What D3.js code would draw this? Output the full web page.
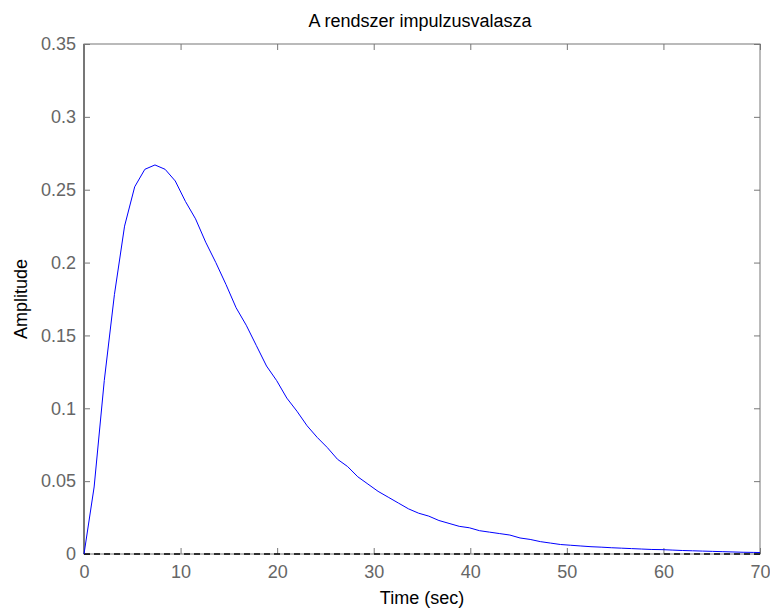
<!DOCTYPE html>
<html>
<head>
<meta charset="utf-8">
<script src="https://cdn.jsdelivr.net/npm/d3@7"></script>
<style>
body { margin: 0; background: #fff; }
text { font-family: "Liberation Sans", Arial, sans-serif; }
</style>
</head>
<body>
<svg></svg>
<script>
const width = 770;
const height = 610;

// impulse response samples
const times = [0, 1.05, 2.1, 3.15, 4.2, 5.25, 6.3, 7.35, 8.4, 9.45, 10.5, 11.55, 12.6, 13.65,
	14.7, 15.75, 16.8, 17.85, 18.9, 19.95, 21, 22.05, 23.1, 24.15, 25.2, 26.25, 27.3, 28.35,
	29.4, 30.45, 31.5, 32.55, 33.6, 34.65, 35.7, 36.75, 37.8, 38.85, 39.9, 40.95, 42, 43.05,
	44.1, 45.15, 46.2, 47.25, 48.3, 49.35, 50.4, 51.45, 52.5, 53.55, 54.6, 55.65, 56.7, 57.75,
	58.8, 59.85, 60.9, 61.95, 63, 64.05, 65.1, 66.15, 67.2, 68.25, 69.3, 70];
const amplitude = [0, 0.046, 0.119, 0.178, 0.225, 0.252, 0.264, 0.267, 0.264, 0.256, 0.242, 0.230, 0.214, 0.200,
	0.185, 0.169, 0.157, 0.143, 0.129, 0.119, 0.107, 0.098, 0.088, 0.080, 0.073, 0.065, 0.060, 0.053,
	0.048, 0.043, 0.039, 0.035, 0.031, 0.028, 0.026, 0.023, 0.021, 0.019, 0.018, 0.016, 0.015, 0.014,
	0.013, 0.011, 0.010, 0.0085, 0.0075, 0.0065, 0.006, 0.0055, 0.005, 0.0047, 0.0043, 0.004, 0.0037, 0.0034,
	0.0031, 0.003, 0.0027, 0.0024, 0.0022, 0.002, 0.0018, 0.0016, 0.0014, 0.0012, 0.0011, 0.001];
const xTicks = [0, 10, 20, 30, 40, 50, 60, 70];
const yTicks = [0, 0.05, 0.1, 0.15, 0.2, 0.25, 0.3, 0.35];

const margin = {left: 84, right: 10, top: 44, bottom: 56};
const svg = d3.select("svg").attr("width", width).attr("height", height);

const x = d3.scaleLinear().domain([0, 70]).range([margin.left, width - margin.right]);
const y = d3.scaleLinear().domain([0, 0.35]).range([height - margin.bottom, margin.top]);

const axisColor = "#777";
const labelColor = "#666";
const fontSize = "18px";

// frame
svg.append("rect")
	.attr("x", x(0))
	.attr("y", y(0.35))
	.attr("width", x(70) - x(0))
	.attr("height", y(0) - y(0.35))
	.attr("fill", "none")
	.attr("stroke", axisColor)
	.attr("stroke-width", 1);

svg.append("line")
	.attr("x1", x(0)).attr("x2", x(0))
	.attr("y1", y(0)).attr("y2", y(0.35))
	.attr("stroke", axisColor)
	.attr("stroke-width", 2);

// axes on all four sides, ticks pointing in
let axBottom = svg.append("g")
	.attr("transform", `translate(0,${y(0)})`)
	.call(d3.axisBottom(x).tickValues(xTicks).tickSize(-6).tickPadding(11).tickFormat(d3.format("d")));
let axTop = svg.append("g")
	.attr("transform", `translate(0,${y(0.35)})`)
	.call(d3.axisTop(x).tickValues(xTicks).tickSize(-6).tickFormat(""));
let axLeft = svg.append("g")
	.attr("transform", `translate(${x(0)},0)`)
	.call(d3.axisLeft(y).tickValues(yTicks).tickSize(-6).tickPadding(8).tickFormat(d => String(+d.toFixed(2))));
let axRight = svg.append("g")
	.attr("transform", `translate(${x(70)},0)`)
	.call(d3.axisRight(y).tickValues(yTicks).tickSize(-6).tickFormat(""));

[axBottom, axTop, axLeft, axRight].forEach(g => {
	g.select(".domain").remove();
	g.selectAll(".tick line").attr("stroke", axisColor);
	g.selectAll(".tick text")
		.attr("fill", labelColor)
		.style("font-size", fontSize)
		.style("font-family", "'Liberation Sans', Arial, sans-serif");
});

// zero reference line
svg.append("line")
	.attr("x1", x(0)).attr("x2", x(70))
	.attr("y1", y(0)).attr("y2", y(0))
	.attr("stroke", "#000")
	.attr("stroke-width", 1.5)
	.attr("stroke-dasharray", "6,4");

// response curve
const line = d3.line()
	.x((d, i) => x(times[i]))
	.y(d => y(d));

svg.append("path")
	.attr("d", line(amplitude))
	.attr("fill", "none")
	.attr("stroke", "#0000ff")
	.attr("stroke-width", 1);

// title and labels
svg.append("text")
	.attr("x", (x(0) + x(70)) / 2 - 2)
	.attr("y", 27)
	.attr("text-anchor", "middle")
	.style("font-size", fontSize)
	.text("A rendszer impulzusvalasza");

svg.append("text")
	.attr("x", (x(0) + x(70)) / 2)
	.attr("y", 604)
	.attr("text-anchor", "middle")
	.style("font-size", fontSize)
	.text("Time (sec)");

svg.append("text")
	.attr("transform", `translate(27,${(y(0) + y(0.35)) / 2}) rotate(-90)`)
	.attr("text-anchor", "middle")
	.style("font-size", fontSize)
	.text("Amplitude");
</script>
</body>
</html>
